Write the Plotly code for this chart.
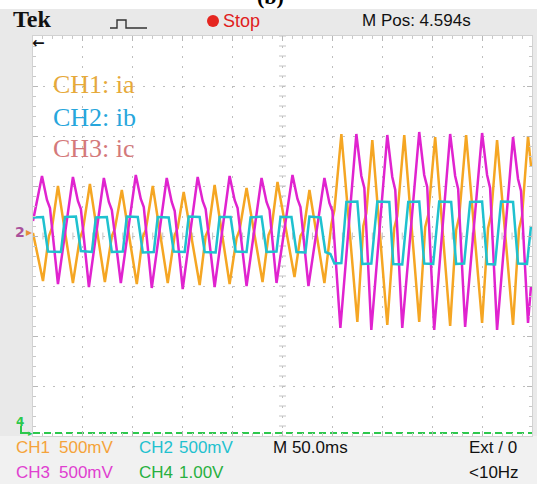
import numpy as np
import plotly.graph_objects as go

# ---------------------------------------------------------------------------
# Scope capture: three phase currents (500 mV/div, 50 ms/div), load step ~300 ms
# ---------------------------------------------------------------------------

# CH1: ia (orange) - vertices of the captured trace, time in ms, level in mV
ch1_t = [0, 10, 16, 19, 25, 40, 47, 50, 57, 72, 79, 82, 89, 104, 110, 113, 120,
         135, 142, 145, 151, 167, 173, 176, 182, 197, 204, 207, 214, 230, 236,
         239, 245, 262, 268, 271, 277, 292, 299, 302, 309, 325, 331, 334, 340,
         355, 362, 365, 372, 387, 393, 396, 403, 418, 424, 427, 434, 450, 456,
         459, 465, 481, 487, 490, 496, 499]
ch1_mv = [30, -450, 0, 80, 500, -470, -20, 60, 520, -460, 0, 70, 460, -480, -10,
          60, 500, -470, 10, 80, 440, -490, 0, 70, 510, -480, -20, 60, 480, -460,
          10, 80, 540, -410, 0, 50, 460, -470, 120, 260, 1020, -860, 100, 230,
          960, -890, 80, 200, 1010, -860, 90, 210, 990, -900, 60, 190, 1010,
          -870, 80, 210, 960, -890, 70, 200, 1000, 700]

# CH2: ib (cyan)
ch2_t = [0, 10, 15, 28, 32, 43, 48, 59, 63, 74, 79, 90, 94, 105, 110, 121, 125,
         136, 141, 152, 156, 167, 172, 183, 187, 198, 203, 214, 218, 229, 234,
         244, 248, 259, 264, 273, 277, 288, 293, 298, 302, 309, 314, 325, 330,
         339, 345, 357, 361, 370, 376, 387, 392, 401, 407, 419, 424, 432, 438,
         450, 455, 463, 469, 481, 486, 495, 499]
ch2_mv = [185, 190, -155, -160, 190, 195, -150, -160, 185, 190, -160, -155, 195,
          190, -165, -160, 190, 185, -155, -160, 195, 190, -160, -165, 190, 190,
          -155, -160, 185, 195, -160, -155, 190, 190, -160, -165, 195, 185,
          -160, -180, -275, -270, 340, 345, -280, -275, 345, 340, -280, -285,
          340, 345, -275, -280, 345, 340, -280, -275, 340, 345, -280, -285, 345,
          340, -275, -280, 100]

# CH3: ic (magenta)
ch3_t = [0, 9, 14, 17, 25, 40, 45, 48, 56, 71, 76, 79, 88, 103, 108, 111, 119,
         134, 139, 142, 150, 165, 170, 173, 182, 197, 202, 205, 214, 229, 234,
         237, 244, 260, 265, 268, 276, 292, 297, 300, 308, 324, 329, 332, 339,
         355, 360, 363, 370, 387, 392, 395, 402, 418, 423, 426, 433, 450, 455,
         458, 465, 481, 486, 489, 496, 499]
ch3_mv = [150, 600, 360, 280, -480, 590, 350, 270, -510, 580, 340, 260, -470,
          610, 370, 290, -520, 580, 340, 250, -530, 590, 350, 270, -510, 600,
          360, 280, -500, 580, 340, 260, -470, 610, 370, 290, -500, 580, 330,
          250, -920, 1020, 600, 480, -940, 1010, 590, 460, -920, 1040, 610, 490,
          -940, 1020, 600, 470, -910, 1030, 610, 480, -940, 990, 570, 450, -870,
          -500]

# CH4: flat trace sitting at the bottom of the screen
ch4_t = [0, 500]
ch4_mv = [-1970, -1970]

# screen settings
time_span = [0, 500]        # 10 div x 50 ms
level_span = [-2000, 2000]  # 8 div x 500 mV

# ---------------------------------------------------------------------------
W, H = 537, 484
L, R, T, B = 33, 5, 36, 48
PW, PH = W - L - R, H - T - B

C_CH1 = "#F5A623"
C_CH2 = "#1FC1CF"
C_CH3 = "#E023CF"
C_CH4 = "#2DC84D"


def pxx(x):
    return (x - L) / PW


def pxy(y):
    return (H - B - y) / PH


fig = go.Figure()

# graticule centre-line ruler ticks
ruler_t = np.arange(0, 501, 10)
ruler_v = np.arange(-2000, 2001, 100)
fig.add_trace(go.Scatter(x=ruler_t, y=np.zeros_like(ruler_t), mode="markers",
                         marker=dict(symbol="line-ns", size=5,
                                     line=dict(color="#C4C4C4", width=1)),
                         hoverinfo="skip"))
fig.add_trace(go.Scatter(x=np.full_like(ruler_v, 250), y=ruler_v, mode="markers",
                         marker=dict(symbol="line-ew", size=5,
                                     line=dict(color="#C4C4C4", width=1)),
                         hoverinfo="skip"))

fig.add_trace(go.Scatter(x=ch4_t, y=ch4_mv, mode="lines",
                         line=dict(color=C_CH4, width=2, dash="7px,4px")))
fig.add_trace(go.Scatter(x=ch1_t, y=ch1_mv, mode="lines", name="CH1: ia",
                         line=dict(color=C_CH1, width=2.5)))
fig.add_trace(go.Scatter(x=ch3_t, y=ch3_mv, mode="lines", name="CH3: ic",
                         line=dict(color=C_CH3, width=2.5)))
fig.add_trace(go.Scatter(x=ch2_t, y=ch2_mv, mode="lines", name="CH2: ib",
                         line=dict(color=C_CH2, width=2.5)))

axis_common = dict(showgrid=True, gridcolor="#BEBEBE", griddash="2px,8px",
                   gridwidth=1, zeroline=False, showticklabels=False,
                   ticks="inside", ticklen=5, tickcolor="#B8B8B8",
                   showline=True, linecolor="#D2D2D2", mirror="ticks",
                   fixedrange=True)
fig.update_xaxes(range=time_span, dtick=50, tick0=0,
                 minor=dict(dtick=10, ticks="inside", ticklen=3,
                            tickcolor="#C8C8C8", showgrid=False),
                 **axis_common)
fig.update_yaxes(range=level_span, dtick=500, tick0=0,
                 minor=dict(dtick=100, ticks="inside", ticklen=3,
                            tickcolor="#C8C8C8", showgrid=False),
                 **axis_common)

shapes = [
    # white strip above the status bar
    dict(type="rect", xref="paper", yref="paper", x0=pxx(0), x1=pxx(W),
         y0=pxy(9), y1=pxy(0), fillcolor="white", line_width=0, layer="below"),
    # lighter readout area under the screen
    dict(type="rect", xref="paper", yref="paper", x0=pxx(0), x1=pxx(W),
         y0=pxy(H), y1=pxy(H - B), fillcolor="#F1F1F1", line_width=0,
         layer="below"),
    # run/stop indicator
    dict(type="circle", xref="paper", yref="paper", x0=pxx(207), x1=pxx(219),
         y0=pxy(27), y1=pxy(15), fillcolor="#E52620", line_width=0),
    # trigger type icon
    dict(type="path", xref="paper", yref="paper",
         path="M {a},{b} L {c},{b} L {c},{d} L {e},{d} L {e},{b} L {f},{b}".format(
             a=pxx(110), b=pxy(28), c=pxx(117), d=pxy(20), e=pxx(126), f=pxx(147)),
         line=dict(color="#333333", width=1.4)),
    # CH4 ground marker hook
    dict(type="path", xref="paper", yref="paper",
         path="M {a},{b} L {a},{c} L {d},{c}".format(
             a=pxx(21), b=pxy(426), c=pxy(433), d=pxx(30)),
         line=dict(color=C_CH4, width=2)),
]

annotations = []


def ann(text, x, y, size, color, family="Liberation Sans", xanchor="left",
        yanchor="middle"):
    annotations.append(dict(text=text, x=pxx(x), y=pxy(y), xref="paper",
                            yref="paper", showarrow=False, xanchor=xanchor,
                            yanchor=yanchor,
                            font=dict(family=family, size=size, color=color)))


# title (runs off the top edge)
ann("<b>(b)</b>", 270, 11, 22, "#000000", family="Liberation Serif",
    xanchor="center", yanchor="bottom")

# status bar
ann("<b>Tek</b>", 11, 19, 24, "#111111", family="Liberation Serif")
ann("Stop", 221, 21, 18, "#E0201C")
ann("M Pos: 4.594s", 360, 21, 17, "#111111")

# on-screen markers
ann("<b>←</b>", 38, 43, 15, "#111111", family="DejaVu Sans", xanchor="center")
ann("<b>2</b>", 13, 232, 14, "#A9509B", family="DejaVu Sans")
ann("▸", 24, 232, 12, "#E79037", family="DejaVu Sans")
ann("<b>4</b>", 14, 422, 12, C_CH4, family="DejaVu Sans")
ann("▸", 26, 433, 9, C_CH4, family="DejaVu Sans")

# channel legend written on the screen
ann("CH1: ia", 51, 84, 26, "#E6A93A", family="Liberation Serif")
ann("CH2: ib", 51, 118, 26, "#27A6DC", family="Liberation Serif")
ann("CH3: ic", 51, 148, 26, "#D4797A", family="Liberation Serif")

# readouts under the screen
ann("CH1", 14, 447, 17, "#F5A33A")
ann("500mV", 57, 447, 17, "#F5A33A")
ann("CH2", 137, 447, 17, C_CH2)
ann("500mV", 177, 447, 17, C_CH2)
ann("M 50.0ms", 271, 447, 17, "#111111")
ann("Ext / 0", 467, 447, 17, "#111111")
ann("CH3", 14, 472, 17, "#E040D0")
ann("500mV", 57, 472, 17, "#E040D0")
ann("CH4", 137, 472, 17, "#28B040")
ann("1.00V", 177, 472, 17, "#28B040")
ann("<10Hz", 467, 472, 17, "#111111")

fig.update_layout(width=W, height=H,
                  margin=dict(l=L, r=R, t=T, b=B, pad=0),
                  paper_bgcolor="#E9E9E9", plot_bgcolor="white",
                  showlegend=False, shapes=shapes, annotations=annotations)

fig.write_html("out.html", config={"displayModeBar": False})
